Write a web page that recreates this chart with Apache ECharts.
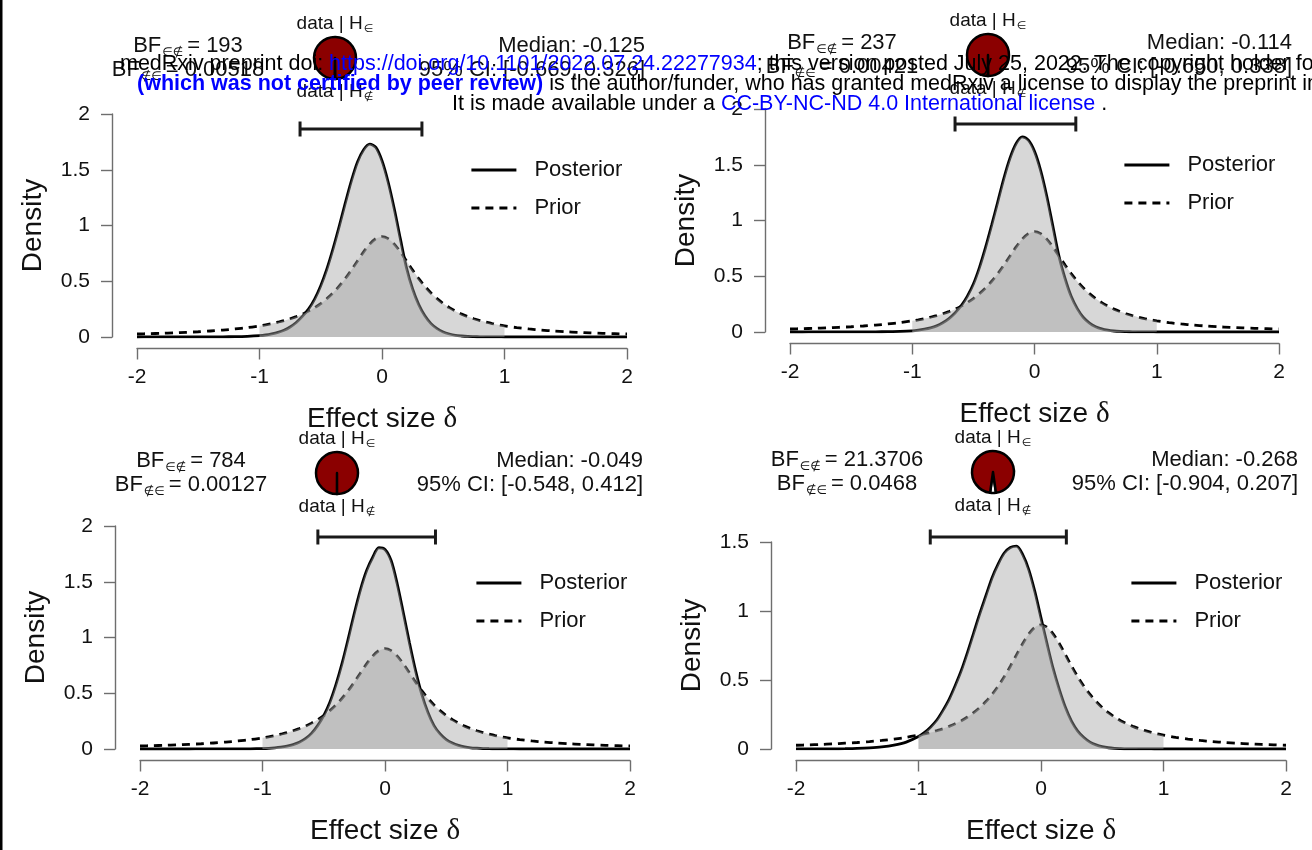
<!DOCTYPE html>
<html>
<head>
<meta charset="utf-8">
<script src="https://cdn.jsdelivr.net/npm/echarts@6/dist/echarts.min.js"></script>
<style>
html,body{margin:0;padding:0;background:#fff;}
#chart{width:1312px;height:850px;}
</style>
</head>
<body>
<div id="chart"></div>
<script>
// ---------------- data ----------------
const xGrid = [-2.0,-1.9,-1.8,-1.7,-1.6,-1.5,-1.4,-1.3,-1.2,-1.1,
  -1.0,-0.95,-0.9,-0.85,-0.8,-0.75,-0.7,-0.65,-0.6,-0.55,-0.5,-0.45,-0.4,-0.35,-0.3,-0.25,-0.2,-0.15,-0.1,-0.05,
  0.0,
  0.05,0.1,0.15,0.2,0.25,0.3,0.35,0.4,0.45,0.5,0.55,0.6,0.65,0.7,0.75,0.8,0.85,0.9,0.95,1.0,
  1.1,1.2,1.3,1.4,1.5,1.6,1.7,1.8,1.9,2.0];

const priorDensity = [0.027,0.030,0.033,0.037,0.042,0.047,0.054,0.062,0.072,0.084,
  0.100,0.109,0.120,0.133,0.147,0.164,0.183,0.205,0.232,0.263,0.300,0.344,0.395,0.455,0.523,0.600,0.682,0.763,0.833,0.882,
  0.900,
  0.882,0.833,0.763,0.682,0.600,0.523,0.455,0.395,0.344,0.300,0.263,0.232,0.205,0.183,0.164,0.147,0.133,0.120,0.109,0.100,
  0.084,0.072,0.062,0.054,0.047,0.042,0.037,0.033,0.030,0.027];

const posterior1 = [0.0002,0.0003,0.0004,0.0006,0.0008,0.001,0.0015,0.002,0.003,0.006,
  0.012,0.018,0.028,0.041,0.06,0.09,0.13,0.185,0.25,0.34,0.46,0.61,0.79,0.99,1.20,1.40,1.57,1.68,1.73,1.70,
  1.58,
  1.39,1.15,0.88,0.62,0.43,0.29,0.19,0.12,0.075,0.045,0.027,0.015,0.009,0.005,0.003,0.0015,0.001,0.0005,0.0003,0.0002,
  0.0001,0,0,0,0,0,0,0,0,0];
const posterior2 = [0.0002,0.0002,0.0003,0.0005,0.0007,0.001,0.0013,0.002,0.003,0.005,
  0.010,0.016,0.025,0.037,0.055,0.083,0.12,0.17,0.235,0.32,0.43,0.58,0.76,0.96,1.17,1.38,1.56,1.69,1.75,1.72,
  1.62,
  1.45,1.22,0.95,0.68,0.48,0.32,0.21,0.13,0.08,0.048,0.028,0.016,0.009,0.005,0.003,0.0015,0.001,0.0005,0.0003,0.0002,
  0.0001,0,0,0,0,0,0,0,0,0];
const posterior3 = [0.0001,0.0001,0.0001,0.0002,0.0002,0.0003,0.0005,0.0008,0.0012,0.002,
  0.004,0.006,0.010,0.016,0.025,0.039,0.06,0.092,0.14,0.21,0.30,0.42,0.58,0.77,0.99,1.22,1.43,1.60,1.72,1.805,
  1.79,
  1.69,1.48,1.22,0.95,0.70,0.49,0.33,0.21,0.135,0.085,0.053,0.032,0.019,0.011,0.007,0.004,0.0025,0.0015,0.001,0.0006,
  0.0002,0.0001,0.0001,0,0,0,0,0,0,0];
const posterior4 = [0.0002,0.0003,0.0005,0.001,0.002,0.004,0.008,0.015,0.028,0.05,
  0.09,0.12,0.16,0.21,0.28,0.36,0.46,0.57,0.70,0.84,0.98,1.11,1.24,1.34,1.42,1.46,1.47,1.41,1.30,1.14,
  0.95,
  0.76,0.58,0.43,0.30,0.20,0.13,0.083,0.05,0.03,0.017,0.009,0.005,0.003,0.0015,0.001,0.0005,0.0003,0.0002,0.0001,0.0001,
  0,0,0,0,0,0,0,0,0,0];
const posteriors = [posterior1, posterior2, posterior3, posterior4];

const bfForward  = [193, 237, 784, 21.3706];            // BF ∈∉
const bfBackward = [0.00518, 0.00421, 0.00127, 0.0468]; // BF ∉∈
const medians = [-0.125, -0.114, -0.049, -0.268];
const ciLower = [-0.669, -0.650, -0.548, -0.904];
const ciUpper = [0.326, 0.338, 0.412, 0.207];
const yMaxes = [2, 2, 2, 1.5];
const xTickInterval = 1;
const yTickInterval = 0.5;
const legendNames = ['Posterior', 'Prior'];

// ---------------- layout ----------------
const layout = [
  {left:137, top:114, width:490, height:223, pie:[335,58],  bfX:188, medX:645,  legend:[470,158],  bar:129},
  {left:790, top:109, width:489, height:223, pie:[988,55],  bfX:842, medX:1292, legend:[1123,153], bar:124},
  {left:140, top:526, width:490, height:223, pie:[337,473], bfX:191, medX:643,  legend:[475,571],  bar:537},
  {left:796, top:542, width:490, height:207, pie:[993,472], bfX:847, medX:1298, legend:[1130,571], bar:537}
];

const FONT = "'Liberation Sans', Arial, Helvetica, sans-serif";
const SYM = "'DejaVu Sans', sans-serif";
const AXIS_COLOR = '#6e6e6e';
const TEXT_COLOR = '#111';
const FILL = 'rgba(160,160,160,0.42)';
const SMOOTH = 0.3;

const chart = echarts.init(document.getElementById('chart'), null, {renderer:'canvas'});

const grids = [], xAxes = [], yAxes = [], series = [], legends = [], graphics = [];

function ciRender(barY) {
  return function (params, api) {
    const a = api.coord([api.value(0), 0]);
    const b = api.coord([api.value(1), 0]);
    const st = {stroke:'#1a1a1a', lineWidth:3, fill:null};
    return {type:'group', children:[
      {type:'line', shape:{x1:a[0], y1:barY, x2:b[0], y2:barY}, style:st},
      {type:'line', shape:{x1:a[0], y1:barY-7.5, x2:a[0], y2:barY+7.5}, style:st},
      {type:'line', shape:{x1:b[0], y1:barY-7.5, x2:b[0], y2:barY+7.5}, style:st}
    ]};
  };
}

function textEl(x, y, text, align, rich, z) {
  return {
    type:'text', z: z || 50, silent:true,
    style:{
      text:text, x:x, y:y,
      align:align, textAlign:align, verticalAlign:'middle', textVerticalAlign:'middle',
      fill:TEXT_COLOR, fontFamily:FONT, fontSize:22,
      rich:rich
    }
  };
}

const bfRich = {
  m:{fontSize:22, fontFamily:FONT, fill:TEXT_COLOR, color:TEXT_COLOR, lineHeight:26},
  s:{fontSize:12, fontFamily:SYM, fill:TEXT_COLOR, color:TEXT_COLOR, lineHeight:10, verticalAlign:'bottom', padding:[0,4,0,1]}
};
const pieRich = {
  m:{fontSize:19, fontFamily:FONT, fill:TEXT_COLOR, color:TEXT_COLOR, lineHeight:22},
  s:{fontSize:11, fontFamily:SYM, fill:TEXT_COLOR, color:TEXT_COLOR, lineHeight:10, verticalAlign:'bottom', padding:[0,0,0,1]}
};

layout.forEach((L, i) => {
  grids.push({left:L.left, top:L.top, width:L.width, height:L.height, containLabel:false, outerBoundsMode:'none'});
  xAxes.push({
    gridIndex:i, type:'value', min:-2, max:2, interval:xTickInterval, position:'bottom', offset:11.5,
    axisLine:{show:true, onZero:false, lineStyle:{color:AXIS_COLOR, width:1.4}},
    axisTick:{show:true, length:11, lineStyle:{color:AXIS_COLOR, width:1.4}},
    axisLabel:{show:true, margin:18, fontSize:21, color:TEXT_COLOR, fontFamily:FONT},
    splitLine:{show:false},
    name:'Effect size {g|δ}', nameLocation:'middle', nameGap:56,
    nameTextStyle:{fontSize:28, color:TEXT_COLOR, fontFamily:FONT,
      rich:{g:{fontSize:29, color:TEXT_COLOR, fontFamily:"'Liberation Serif', 'DejaVu Serif', serif"}}}
  });
  yAxes.push({
    gridIndex:i, type:'value', min:0, max:yMaxes[i], interval:yTickInterval, position:'left', offset:25,
    axisLine:{show:true, onZero:false, lineStyle:{color:AXIS_COLOR, width:1.4}},
    axisTick:{show:true, length:11, lineStyle:{color:AXIS_COLOR, width:1.4}},
    axisLabel:{show:true, margin:22, fontSize:21, color:TEXT_COLOR, fontFamily:FONT},
    splitLine:{show:false},
    name:'Density', nameLocation:'middle', nameGap:65, nameRotate:90,
    nameTextStyle:{fontSize:28, color:TEXT_COLOR, fontFamily:FONT}
  });

  const post = posteriors[i];
  const postPts = xGrid.map((x, k) => [x, post[k]]);
  const priorPts = xGrid.map((x, k) => [x, priorDensity[k]]);
  const inRange = p => p[0] >= -1.0001 && p[0] <= 1.0001;

  series.push({name:'Posterior', type:'line', xAxisIndex:i, yAxisIndex:i, data:postPts, smooth:SMOOTH,
    symbol:'none', showSymbol:false, silent:true, z:2, animation:false,
    lineStyle:{color:'#000', width:2.8}, itemStyle:{color:'#000'}});
  series.push({name:'Prior', type:'line', xAxisIndex:i, yAxisIndex:i, data:priorPts, smooth:SMOOTH,
    symbol:'none', showSymbol:false, silent:true, z:2, animation:false,
    lineStyle:{color:'#000', width:2.8, type:[8,6]}, itemStyle:{color:'#000'}});
  series.push({name:'Posterior area', type:'line', xAxisIndex:i, yAxisIndex:i, data:postPts.filter(inRange), smooth:SMOOTH,
    symbol:'none', showSymbol:false, silent:true, z:3, animation:false,
    lineStyle:{width:0, opacity:0}, areaStyle:{color:FILL, opacity:1}});
  series.push({name:'Prior area', type:'line', xAxisIndex:i, yAxisIndex:i, data:priorPts.filter(inRange), smooth:SMOOTH,
    symbol:'none', showSymbol:false, silent:true, z:3, animation:false,
    lineStyle:{width:0, opacity:0}, areaStyle:{color:FILL, opacity:1}});
  series.push({name:'95% CI', type:'custom', xAxisIndex:i, yAxisIndex:i, data:[[ciLower[i], ciUpper[i]]],
    renderItem:ciRender(L.bar), silent:true, z:4, animation:false, clip:false});

  const whiteAngle = 360 / (1 + bfForward[i]);
  series.push({name:'pie'+i, type:'pie', center:[L.pie[0], L.pie[1]], radius:21,
    startAngle:270 + whiteAngle/2, clockwise:true, silent:true, animation:false, z:5,
    label:{show:false}, labelLine:{show:false}, emphasis:{disabled:true},
    itemStyle:{borderColor:'#000', borderWidth:2.5},
    data:[{value:1, name:'data | H∉', itemStyle:{color:'#ffffff'}},
          {value:bfForward[i], name:'data | H∈', itemStyle:{color:'#8b0000'}}]});

  legends.push({
    left:L.legend[0], top:L.legend[1], orient:'vertical', padding:0, itemGap:14,
    itemWidth:45, itemHeight:24, selectedMode:false, data:legendNames,
    itemStyle:{opacity:0}, lineStyle:{width:2.8},
    textStyle:{fontSize:22, color:TEXT_COLOR, fontFamily:FONT, lineHeight:24, padding:[0,0,0,13]}
  });

  // texts around the pie
  const py = L.pie[1];
  graphics.push(textEl(L.bfX, py - 12, '{m|BF}{s|∈∉}{m|= ' + bfForward[i] + '}', 'center', bfRich));
  graphics.push(textEl(L.bfX, py + 12, '{m|BF}{s|∉∈}{m|= ' + bfBackward[i] + '}', 'center', bfRich));
  graphics.push(textEl(L.medX, py - 12, '{m|Median: ' + medians[i].toFixed(3) + '}', 'right', bfRich));
  graphics.push(textEl(L.medX, py + 12, '{m|95% CI: [' + ciLower[i].toFixed(3) + ', ' + ciUpper[i].toFixed(3) + ']}', 'right', bfRich));
  graphics.push(textEl(L.pie[0], py - 34, '{m|data | H}{s|∈}', 'center', pieRich));
  graphics.push(textEl(L.pie[0], py + 34, '{m|data | H}{s|∉}', 'center', pieRich));
});

// watermark (medRxiv header)
const WM = 21.5;
const wmRich = {
  k:{fontSize:WM, fontFamily:FONT, fill:'#000', color:'#000'},
  u:{fontSize:WM, fontFamily:FONT, fill:'#0000ff', color:'#0000ff'},
  b:{fontSize:WM, fontFamily:FONT, fontWeight:'bold', fill:'#0000ff', color:'#0000ff'}
};
graphics.push(textEl(120, 64, '{k|medRxiv preprint doi: }{u|https://doi.org/10.1101/2022.07.24.22277934}{k|; this version posted July 25, 2022. The copyright holder for this preprint}', 'left', wmRich, 100));
graphics.push(textEl(137, 84, '{b|(which was not certified by peer review)}{k| is the author/funder, who has granted medRxiv a license to display the preprint in perpetuity.}', 'left', wmRich, 100));
graphics.push(textEl(452, 104, '{k|It is made available under a }{u|CC-BY-NC-ND 4.0 International license}{k| .}', 'left', wmRich, 100));

// left page border
graphics.push({type:'rect', shape:{x:0, y:0, width:2.5, height:850}, style:{fill:'#000'}, silent:true, z:100});

chart.setOption({
  animation:false,
  backgroundColor:'#ffffff',
  grid:grids, xAxis:xAxes, yAxis:yAxes,
  legend:legends,
  series:series,
  graphic:{elements:graphics}
});
</script>
</body>
</html>
